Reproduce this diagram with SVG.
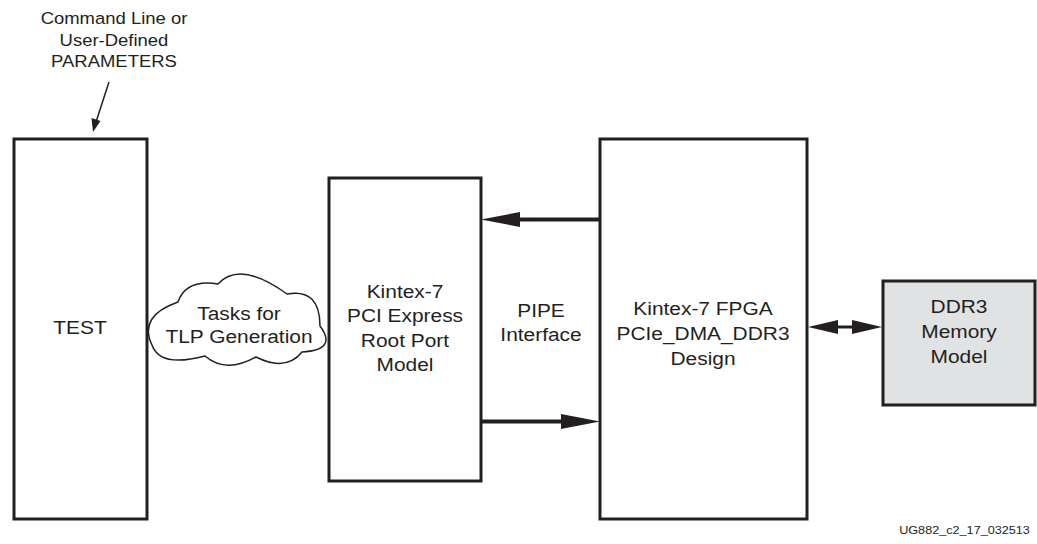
<svg xmlns="http://www.w3.org/2000/svg" width="1037" height="544" viewBox="0 0 1037 544">
<style>
.box{fill:#ffffff;stroke:#231f20;stroke-width:3}
.gray{fill:#e1e2e3;stroke:#231f20;stroke-width:3}
.t{font-family:"Liberation Sans",Arial,sans-serif;font-size:19px;fill:#231f20;text-anchor:middle}
.s{font-family:"Liberation Sans",Arial,sans-serif;font-size:16.8px;fill:#231f20;text-anchor:middle}
.fn{font-family:"Liberation Sans",Arial,sans-serif;font-size:11.5px;fill:#231f20;text-anchor:middle}
.ln{stroke:#231f20;stroke-width:4;fill:none}
.hd{fill:#231f20}
</style>
<rect width="1037" height="544" fill="#ffffff"/>
<g id="params-label">
<g transform="translate(114,0) scale(1.1,1)">
<text class="s" x="0" y="24">Command Line or</text>
<text class="s" x="0" y="46">User-Defined</text>
<text class="s" x="0" y="67">PARAMETERS</text>
</g>
</g>
<g id="test">
<rect class="box" x="14" y="139" width="133" height="380"/>
<g transform="translate(80,0) scale(1.1,1)"><text class="t" x="0" y="334">TEST</text></g>
</g>
<g id="cloud">
<path d="M152,345 Q138,316 178,302 Q186,279 218,284 Q240,260 287,294 Q320,288 320,326 Q338,350 302,352 Q286,372 256,357 Q226,374 205,356 Q160,368 152,345 Z" fill="#ffffff" stroke="#231f20" stroke-width="1.5"/>
<g transform="translate(239,0) scale(1.1,1)">
<text class="t" x="0" y="320">Tasks for</text>
<text class="t" x="0" y="343">TLP Generation</text>
</g>
</g>
<g id="rootport">
<rect class="box" x="329" y="178" width="152" height="303"/>
<g transform="translate(405,0) scale(1.1,1)">
<text class="t" x="0" y="298">Kintex-7</text>
<text class="t" x="0" y="322">PCI Express</text>
<text class="t" x="0" y="347">Root Port</text>
<text class="t" x="0" y="371">Model</text>
</g>
</g>
<g id="pipe-label">
<g transform="translate(541,0) scale(1.1,1)">
<text class="t" x="0" y="317">PIPE</text>
<text class="t" x="0" y="341">Interface</text>
</g>
</g>
<g id="fpga">
<rect class="box" x="600" y="139" width="207" height="380"/>
<g transform="translate(703,0) scale(1.1,1)">
<text class="t" x="0" y="315">Kintex-7 FPGA</text>
<text class="t" x="0" y="340">PCIe_DMA_DDR3</text>
<text class="t" x="0" y="365">Design</text>
</g>
</g>
<g id="ddr3">
<rect class="gray" x="883" y="281" width="152" height="124"/>
<g transform="translate(959,0) scale(1.1,1)">
<text class="t" x="0" y="313">DDR3</text>
<text class="t" x="0" y="338">Memory</text>
<text class="t" x="0" y="363">Model</text>
</g>
</g>
<g id="connectors">
<line x1="109" y1="82" x2="96" y2="122" stroke="#231f20" stroke-width="1.5"/>
<polygon class="hd" points="93,132 91.5,118 100.5,121"/>
<line class="ln" x1="600" y1="219.5" x2="515" y2="219.5"/>
<polygon class="hd" points="481,219.5 520,212 520,227"/>
<line class="ln" x1="481" y1="421.5" x2="565" y2="421.5"/>
<polygon class="hd" points="600,421.5 561,414 561,429"/>
<line x1="830" y1="327" x2="860" y2="327" stroke="#231f20" stroke-width="3"/>
<polygon class="hd" points="808,327 838,320 838,334"/>
<polygon class="hd" points="882,327 852,320 852,334"/>
</g>
<g id="figure-id">
<g transform="translate(964.5,0) scale(1.1,1)"><text class="fn" x="0" y="534">UG882_c2_17_032513</text></g>
</g>
</svg>
